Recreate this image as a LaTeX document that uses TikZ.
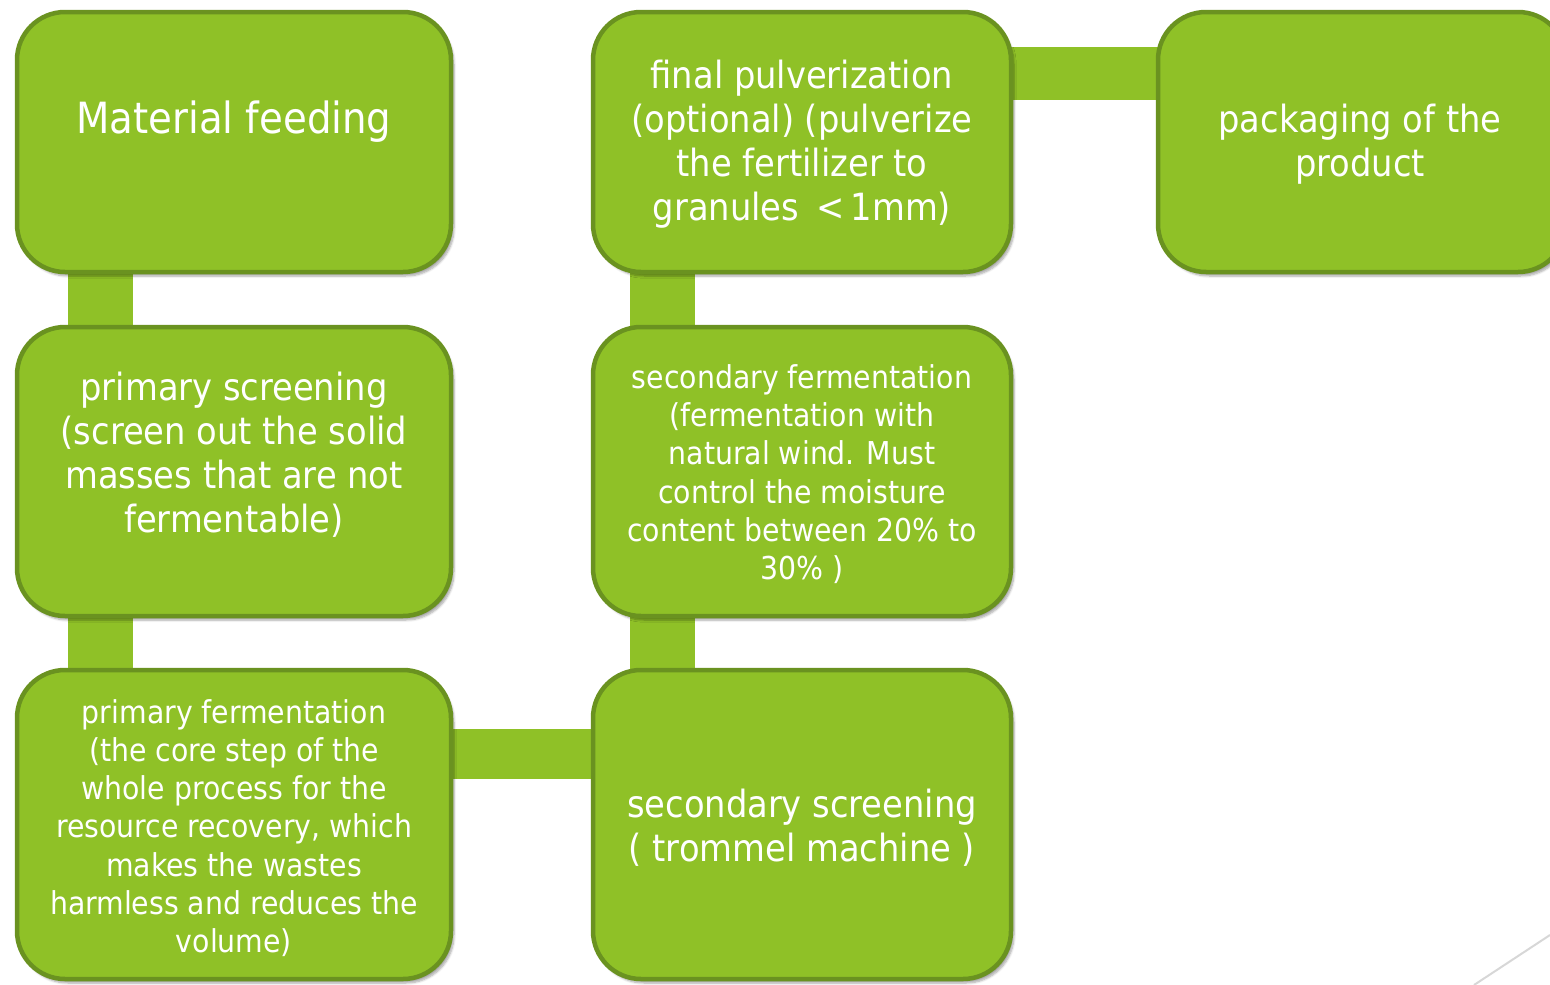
\documentclass[tikz,border=0pt]{standalone}
\usepackage{fontspec}
\setmainfont{DejaVu Sans Condensed}
\usetikzlibrary{shadows.blur,calc}
\definecolor{boxfill}{RGB}{143,193,39}
\definecolor{boxline}{RGB}{106,146,32}
\definecolor{diagline}{RGB}{215,215,215}
\tikzset{
  stepbox/.style={draw=boxline, line width=4.5pt, fill=boxfill, rounded corners=48pt,
    minimum width=#1, inner sep=0pt,
    blur shadow={shadow xshift=3pt, shadow yshift=-4pt, shadow blur steps=6, shadow opacity=35}},
  conn/.style={fill=boxfill},
  lbl/.style={text=white, align=center, inner sep=0pt},
  big/.style={font=\fontsize{43}{48}\selectfont},
  mid/.style={font=\fontsize{37.5}{44}\selectfont},
  small/.style={font=\fontsize{31.5}{38.3}\selectfont},
}
\begin{document}
\begin{tikzpicture}[x=1pt,y=-1pt]
\useasboundingbox (0,0) rectangle (1550,985);
\clip (0,0) rectangle (1550,985);
\path
  (234,142)   coordinate (c1)
  (234,471.5) coordinate (c2)
  (234,824.5) coordinate (c3)
  (802,824.5) coordinate (c4)
  (802,471.5) coordinate (c5)
  (802,142)   coordinate (c6)
  (1362,142)  coordinate (c7);
% invisible frames to anchor connectors
\path
  node[minimum width=434pt, minimum height=260pt, inner sep=0pt] (f1) at (c1) {}
  node[minimum width=434pt, minimum height=289pt, inner sep=0pt] (f2) at (c2) {}
  node[minimum width=434pt, minimum height=309pt, inner sep=0pt] (f3) at (c3) {}
  node[minimum width=418pt, minimum height=309pt, inner sep=0pt] (f4) at (c4) {}
  node[minimum width=418pt, minimum height=289pt, inner sep=0pt] (f5) at (c5) {}
  node[minimum width=418pt, minimum height=260pt, inner sep=0pt] (f6) at (c6) {}
  node[minimum width=408pt, minimum height=260pt, inner sep=0pt] (f7) at (c7) {};
% connectors
\fill[conn] ($(f1.south west)+(51,-4)$) rectangle ($(f2.north west)+(116,4)$);
\fill[conn] ($(f2.south west)+(51,-4)$) rectangle ($(f3.north west)+(116,4)$);
\fill[conn] ($(f3.north east)+(-4,59)$) rectangle ($(f4.north west)+(4,109)$);
\fill[conn] ($(f4.north west)+(37,4)$) rectangle ($(f5.south west)+(102,-4)$);
\fill[conn] ($(f5.north west)+(37,4)$) rectangle ($(f6.south west)+(102,-4)$);
\fill[conn] ($(f6.north east)+(-4,35)$) rectangle ($(f7.north west)+(4,88)$);
% boxes
\node[stepbox=434pt, minimum height=260pt] (b1) at (c1) {};
\node[stepbox=434pt, minimum height=289pt] (b2) at (c2) {};
\node[stepbox=434pt, minimum height=309pt] (b3) at (c3) {};
\node[stepbox=418pt, minimum height=309pt] (b4) at (c4) {};
\node[stepbox=418pt, minimum height=289pt] (b5) at (c5) {};
\node[stepbox=418pt, minimum height=260pt] (b6) at (c6) {};
\node[stepbox=408pt, minimum height=260pt] (b7) at (c7) {};
% labels
\node[lbl,big] (t1) at (234,122) {Material feeding};
\node[lbl,mid] (t2) at (234,455) {primary screening\\(screen out the solid\\masses that are not\\fermentable)};
\node[lbl,small] (t3) at (234,828) {primary fermentation\\(the core step of the\\whole process for the\\resource recovery, which\\makes the wastes\\harmless and reduces the\\volume)};
\node[lbl,mid] (t4) at (802,828) {secondary screening\\( trommel machine )};
\node[lbl,small] (t5) at (802,474) {secondary fermentation\\(fermentation with\\natural wind. Must\\control the moisture\\content between 20\% to\\30\% )};
\node[lbl,mid] (t6) at (802,144) {final pulverization\\(optional) (pulverize\\the fertilizer to\\granules \,<\,1mm)};
\node[lbl,mid] (t7) at (1360,144) {packaging of the\\product};
% decorative line
\coordinate (d1) at (1474,985);
\coordinate (d2) at (1550,935);
\draw[diagline, line width=2pt] (d1) -- (d2);
\end{tikzpicture}
\end{document}
